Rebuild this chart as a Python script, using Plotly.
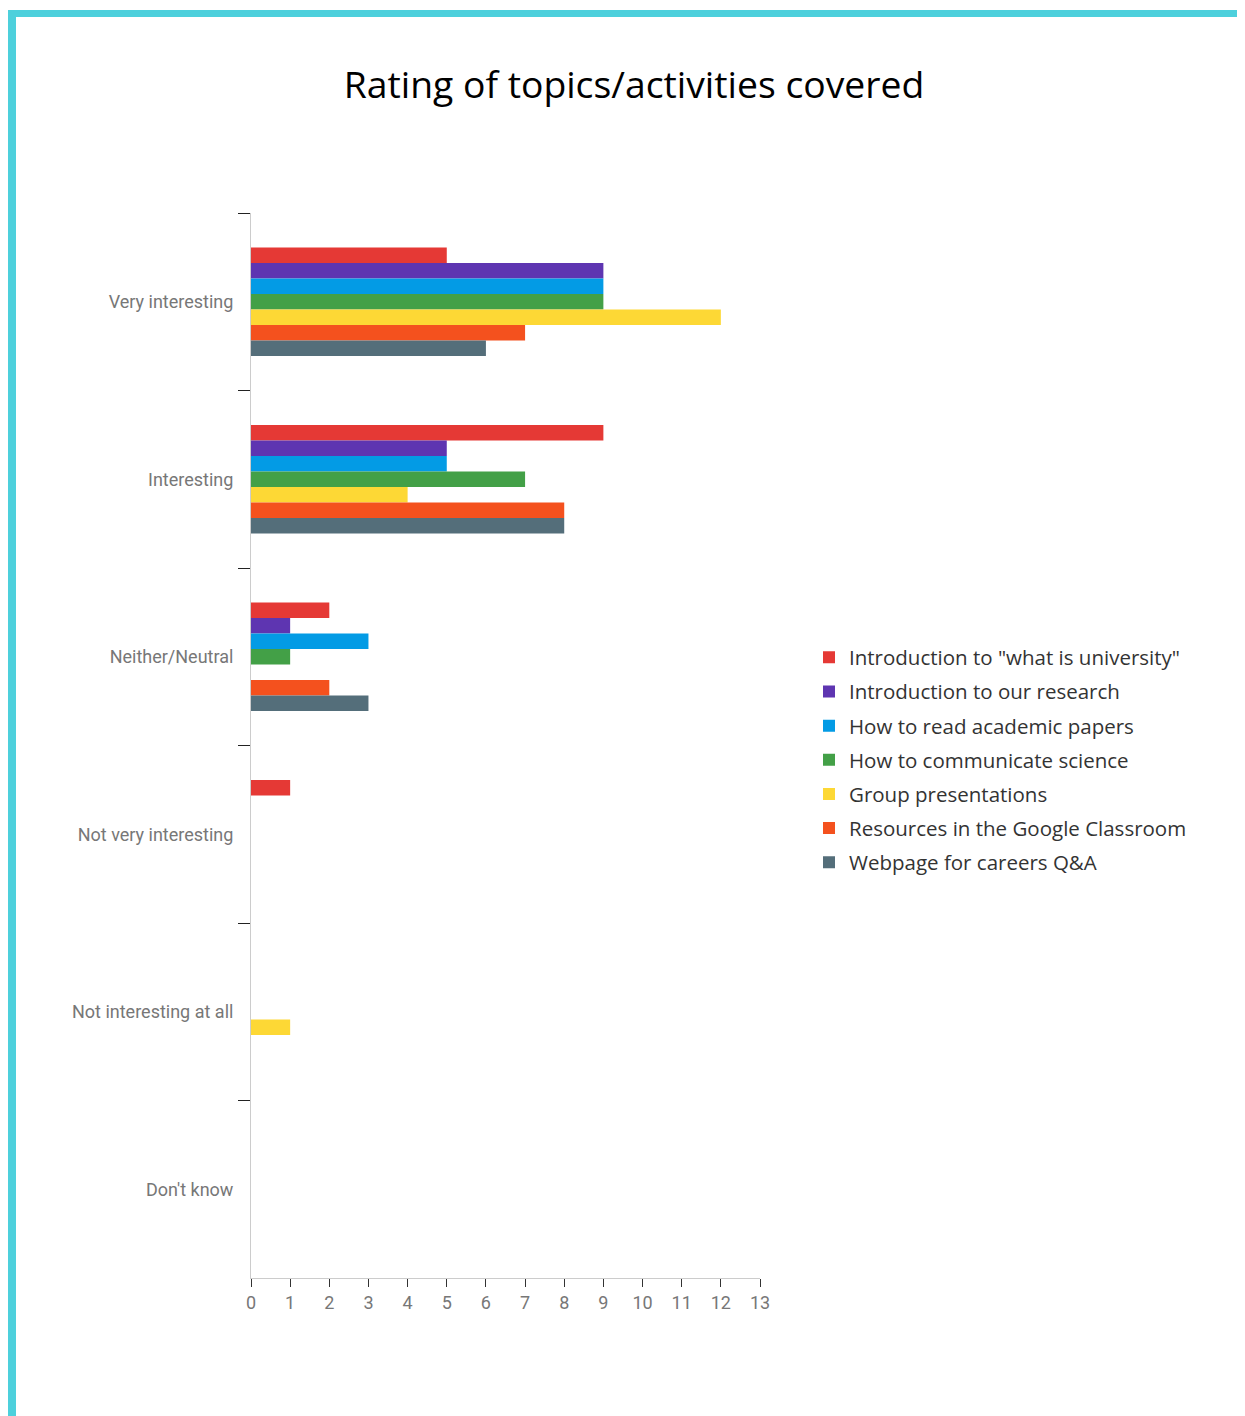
import plotly.graph_objects as go

categories = ["Very interesting", "Interesting", "Neither/Neutral",
              "Not very interesting", "Not interesting at all", "Don't know"]

series_names = [
    'Introduction to "what is university"',
    "Introduction to our research",
    "How to read academic papers",
    "How to communicate science",
    "Group presentations",
    "Resources in the Google Classroom",
    "Webpage for careers Q&A",
]

intro_university = [5, 9, 2, 1, 0, 0]
intro_research = [9, 5, 1, 0, 0, 0]
read_papers = [9, 5, 3, 0, 0, 0]
communicate_science = [9, 7, 1, 0, 0, 0]
group_presentations = [12, 4, 0, 0, 1, 0]
google_classroom = [7, 8, 2, 0, 0, 0]
careers_webpage = [6, 8, 3, 0, 0, 0]

series_values = [intro_university, intro_research, read_papers,
                 communicate_science, group_presentations,
                 google_classroom, careers_webpage]

colors = ["#E53935", "#5E35B1", "#039BE5", "#43A047",
          "#FDD835", "#F4511E", "#546E7A"]

x_ticks = list(range(0, 14))

fig = go.Figure()
for i, (name, vals, col) in enumerate(zip(series_names, series_values, colors)):
    fig.add_trace(go.Bar(
        y=categories, x=vals, name=name, orientation="h",
        marker=dict(color=col, line=dict(width=0)),
        legendgroup="g%d" % i,
    ))

# page has an 8px body margin; figure sized to fit the window
OFF = 8
W, H = 1245 - OFF, 1416 - OFF
ml, mr, mt, mb = 251 - OFF, 485, 213 - OFF, 138
pw = W - ml - mr
ph = H - mt - mb

def px_x(p):
    # p in page pixels
    return (p - OFF - ml) / pw

def px_y(p):
    return (H - mb - (p - OFF)) / ph

border = "#4DD0DC"
shapes = [
    dict(type="rect", xref="paper", yref="paper",
         x0=px_x(8), x1=px_x(1260), y0=px_y(17), y1=px_y(10),
         fillcolor=border, line=dict(width=0), layer="above"),
    dict(type="rect", xref="paper", yref="paper",
         x0=px_x(8), x1=px_x(16), y0=px_y(1430), y1=px_y(10),
         fillcolor=border, line=dict(width=0), layer="above"),
]

fig.update_layout(
    width=W, height=H,
    margin=dict(l=ml, r=mr, t=mt, b=mb, autoexpand=False),
    paper_bgcolor="white", plot_bgcolor="white",
    barmode="group", bargap=0.39, bargroupgap=0,
    title=dict(text="Rating of topics/activities covered",
               x=(634 - OFF) / W, xanchor="center",
               y=1 - (85 - OFF) / H, yanchor="middle",
               xref="container", yref="container",
               font=dict(family="Open Sans, sans-serif", size=37.3, color="#000")),
    xaxis=dict(range=[0, 13], tickvals=x_ticks, ticktext=[str(v) for v in x_ticks],
               showgrid=False, zeroline=False, showline=True, linecolor="#cccccc",
               linewidth=1, ticks="outside", ticklen=8, tickcolor="#333",
               tickfont=dict(family="Roboto, sans-serif", size=18, color="#777")),
    yaxis=dict(autorange="reversed", showgrid=False, zeroline=False,
               showline=True, linecolor="#cccccc", linewidth=1,
               ticks="outside", tickson="boundaries", ticklen=12, tickcolor="#222",
               ticklabelstandoff=13,
               tickfont=dict(family="Roboto, sans-serif", size=18, color="#777")),
    legend=dict(x=px_x(809), xanchor="left", y=px_y(760), yanchor="middle",
                traceorder="grouped", tracegroupgap=4.5,
                font=dict(family="Open Sans, sans-serif", size=20.5, color="#333"),
                bgcolor="rgba(0,0,0,0)"),
    shapes=shapes,
)

fig.write_html("out.html")
